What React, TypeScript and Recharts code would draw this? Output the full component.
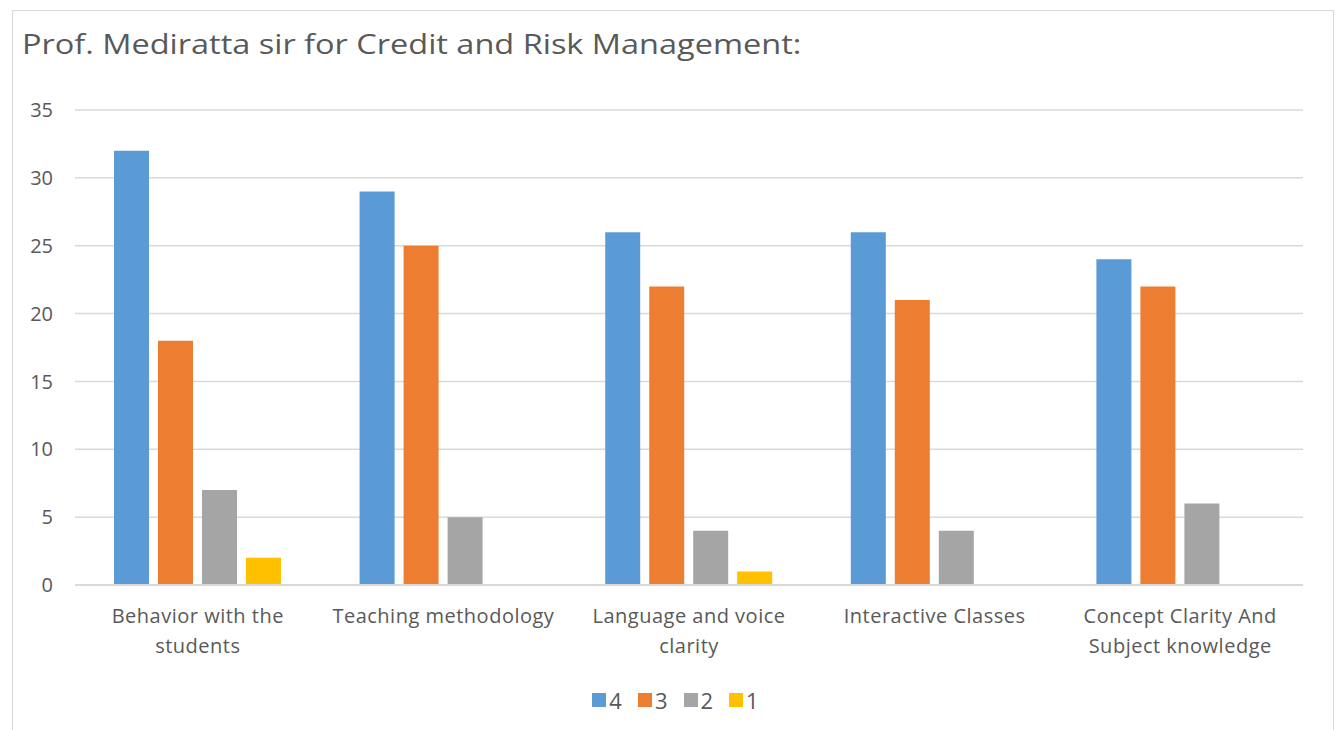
import { BarChart, Bar, XAxis, YAxis, CartesianGrid, Legend } from 'recharts'

const categories = [
  'Behavior with the students',
  'Teaching methodology',
  'Language and voice clarity',
  'Interactive Classes',
  'Concept Clarity And Subject knowledge',
]
const rating4 = [32, 29, 26, 26, 24]
const rating3 = [18, 25, 22, 21, 22]
const rating2 = [7, 5, 4, 4, 6]
const rating1 = [2, 0, 1, 0, 0]
const yTicks = [0, 5, 10, 15, 20, 25, 30, 35]

const series = [
  { key: 'r4', name: '4', color: '#5B9BD5' },
  { key: 'r3', name: '3', color: '#ED7D31' },
  { key: 'r2', name: '2', color: '#A5A5A5' },
  { key: 'r1', name: '1', color: '#FFC000' },
]

const data = categories.map((name, i) => ({
  name,
  r4: rating4[i],
  r3: rating3[i],
  r2: rating2[i],
  r1: rating1[i],
}))

const FONT = '"Open Sans", sans-serif'
const TEXT = '#595959'
const LABEL_SIZE = 20
const LABEL_SPACING = 0.5
const WRAP_WIDTH = 235

let ctx: CanvasRenderingContext2D | null = null
function measure(s: string) {
  if (!ctx) ctx = document.createElement('canvas').getContext('2d')
  if (!ctx) return s.length * LABEL_SIZE * 0.55
  ctx.font = `${LABEL_SIZE}px "Open Sans"`
  return ctx.measureText(s).width + s.length * LABEL_SPACING
}

function wrap(label: string) {
  const lines: string[] = []
  let cur = ''
  for (const w of label.split(' ')) {
    const next = cur ? cur + ' ' + w : w
    if (cur && measure(next) > WRAP_WIDTH) {
      lines.push(cur)
      cur = w
    } else {
      cur = next
    }
  }
  if (cur) lines.push(cur)
  return lines
}

function CategoryTick(props: any) {
  const { x, y, payload } = props
  const lines = wrap(String(payload.value))
  return (
    <text
      x={x}
      y={y + 12}
      textAnchor="middle"
      fill={TEXT}
      fontSize={LABEL_SIZE}
      fontFamily={FONT}
      letterSpacing={LABEL_SPACING}
    >
      {lines.map((l, i) => (
        <tspan key={i} x={x} dy={i === 0 ? '0.9em' : 30}>
          {l}
        </tspan>
      ))}
    </text>
  )
}

function LegendContent() {
  return (
    <div style={{ display: 'flex', justifyContent: 'center', height: 30, alignItems: 'center', fontFamily: FONT, fontSize: 22, color: TEXT, paddingLeft: 30 }}>
      {series.map((s) => (
        <div key={s.key} style={{ display: 'flex', alignItems: 'center', marginRight: 16 }}>
          <span style={{ display: 'inline-block', width: 14, height: 14, background: s.color, marginRight: 3 }} />
          <span>{s.name}</span>
        </div>
      ))}
    </div>
  )
}

export default function App() {
  return (
    <div style={{ position: 'absolute', left: 0, top: 0, width: 1337, height: 730, background: '#fff', overflow: 'hidden' }}>
      <div style={{ position: 'absolute', left: 12, top: 10, width: 1322, height: 740, border: '1.5px solid #D9D9D9', boxSizing: 'border-box' }} />
      <div
        style={{
          position: 'absolute',
          left: 22,
          top: 24,
          fontFamily: FONT,
          fontSize: 28,
          color: TEXT,
          whiteSpace: 'nowrap',
          transform: 'scaleX(1.16)',
          transformOrigin: 'left center',
        }}
      >
        Prof. Mediratta sir for Credit and Risk Management:
      </div>
      <div style={{ position: 'absolute', left: 0, top: 0 }}>
        <BarChart
          width={1337}
          height={730}
          data={data}
          margin={{ top: 110, right: 34, bottom: 15, left: 0 }}
          barSize={35}
          barGap={9}
        >
          <CartesianGrid vertical={false} stroke="#D9D9D9" strokeWidth={1.5} />
          <XAxis
            dataKey="name"
            tick={<CategoryTick />}
            tickLine={false}
            axisLine={{ stroke: '#D9D9D9', strokeWidth: 2 }}
            height={100}
            interval={0}
          />
          <YAxis
            domain={[0, 35]}
            ticks={yTicks}
            width={75}
            tickLine={false}
            axisLine={false}
            tickSize={0}
            tickMargin={22}
            tick={{ fill: TEXT, fontSize: 20, fontFamily: FONT }}
          />
          <Legend verticalAlign="bottom" content={<LegendContent />} wrapperStyle={{ left: 0, width: 1337 }} />
          {series.map((s) => (
            <Bar key={s.key} dataKey={s.key} name={s.name} fill={s.color} isAnimationActive={false} />
          ))}
        </BarChart>
      </div>
    </div>
  )
}
